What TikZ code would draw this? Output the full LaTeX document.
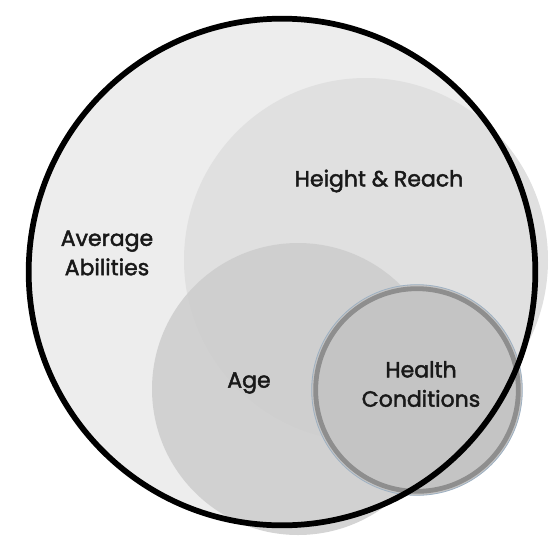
\documentclass[tikz,border=0pt]{standalone}
\usepackage{fontspec}
\setmainfont{Poppins}[FakeBold=2]
\usepackage{tikz}
\usetikzlibrary{positioning}
\definecolor{outerfill}{HTML}{EDEDED}
\definecolor{reachfill}{HTML}{E0E0E0}
\definecolor{agefill}{HTML}{CDCDCD}
\definecolor{healthfill}{HTML}{C4C4C4}
\definecolor{healthrim}{HTML}{8E8E8E}
\definecolor{rimedge}{HTML}{9DB0C2}

\begin{document}
\begin{tikzpicture}[x=0.75pt,y=-0.75pt,font=\fontsize{16.5}{22}\selectfont]
  \tikzset{disc/.style={circle,draw=none,inner sep=0pt},
    tag/.style={align=center,text=black!90}}
  \useasboundingbox (0,0) rectangle (550,540);

  % sets, back to front
  \node[disc,fill=outerfill,minimum size=382.5pt] (average) at (282,272) {};
  \node[disc,fill=reachfill,minimum size=273pt] (reach) at (366,260) {};
  \node[disc,fill=agefill,fill opacity=0.85,minimum size=219pt] (age) at (298,389) {};
  \node[disc,fill=healthfill,draw=rimedge,line width=0.6pt,minimum size=158pt] (health) at (417,390) {};
  \node[disc,draw=healthrim,line width=3.6pt,minimum size=152pt] (healthring) at (417,390) {};

  % outline of the whole set
  \node[disc,draw=black,line width=4.3pt,minimum size=380pt] (border) at (282,272) {};

  \node[tag] (averagelbl) at (107,253) {Average\\Abilities};
  \node[tag] (reachlbl) at (379,181) {Height \& Reach};
  \node[tag] (agelbl) at (249,383) {Age};
  \node[tag] (healthlbl) at (421,384) {Health\\Conditions};
\end{tikzpicture}
\end{document}
